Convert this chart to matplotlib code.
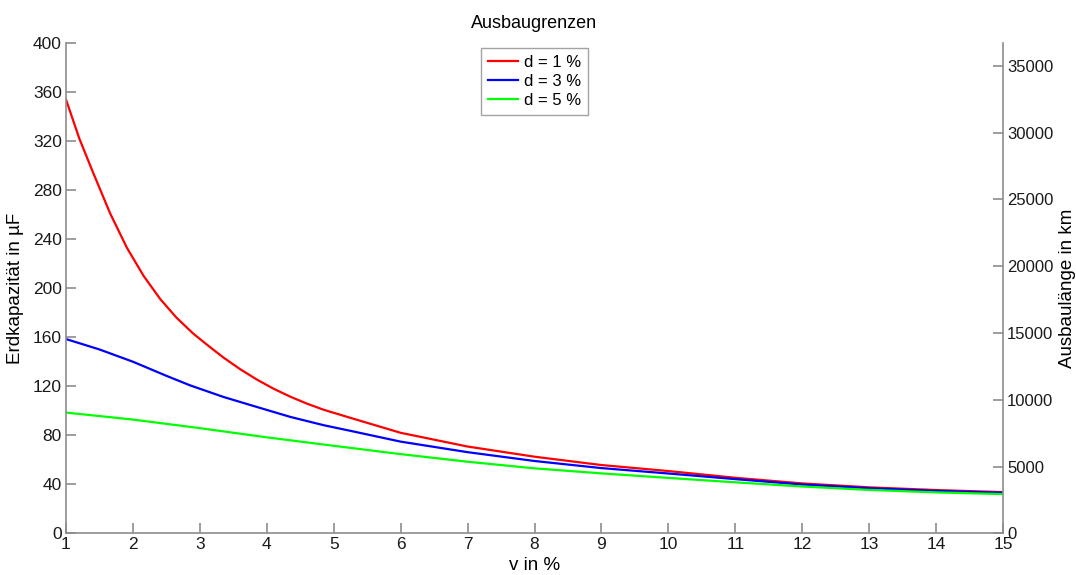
#!/usr/bin/env python
import matplotlib
matplotlib.use("Agg")
import matplotlib.pyplot as plt

# values
v_red = [1.0, 1.2, 1.4, 1.66, 1.91, 2.16, 2.41, 2.65, 2.9, 3.15, 3.35, 3.6,
         3.85, 4.1, 4.35, 4.6, 4.85, 5.25, 6.0, 7.0, 8.0, 9.0, 10.0, 11.0,
         12.0, 13.0, 14.0, 15.0]
c_red = [354, 322, 295, 261, 233, 210, 191, 176, 163, 152, 143.5, 134,
         125.5, 118, 111.5, 105.8, 100.8, 94.2, 82, 70.8, 62.5, 55.7, 50.8,
         45.3, 40.7, 37.5, 35.3, 33.6]

v_blue = [1.0, 1.5, 2.0, 2.5, 2.85, 3.35, 3.85, 4.35, 4.85, 5.25, 6.0, 7.0,
          8.0, 9.0, 10.0, 11.0, 12.0, 13.0, 14.0, 15.0]
c_blue = [158.5, 150, 140, 128.5, 120.8, 111.3, 103.1, 95, 88.2, 83.6, 74.8,
          66.2, 59, 53.2, 48.8, 44.2, 39.8, 36.8, 34.6, 33.1]

v_green = [1.0, 2.0, 3.0, 4.0, 5.0, 6.0, 7.0, 8.0, 9.0, 10.0, 11.0, 12.0,
           13.0, 14.0, 15.0]
c_green = [98.5, 92.8, 85.8, 78.3, 71.4, 64.6, 58.4, 53.0, 48.9, 45.2, 41.6,
           38.2, 35.4, 33.4, 32.0]

labels = ["d = 1 %", "d = 3 %", "d = 5 %"]
colors = ["#ff0000", "#0000ff", "#00ff00"]

left_ticks = list(range(0, 401, 40))
right_ticks = list(range(0, 35001, 5000))
x_ticks = list(range(1, 16))

plt.rcParams['font.family'] = ['Liberation Sans', 'DejaVu Sans']
gray = "#8c8c8c"

fig = plt.figure(figsize=(10.76, 5.75), dpi=100)
ax = fig.add_axes([0.0613, 0.0725, 0.8709, 0.8527])

for xs, ys, lab, col in zip([v_red, v_blue, v_green], [c_red, c_blue, c_green],
                            labels, colors):
    ax.plot(xs, ys, color=col, lw=1.6, label=lab, solid_joinstyle='round')

ax.set_xlim(1, 15)
ax.set_ylim(0, 400)
ax.set_xticks(x_ticks)
ax.set_yticks(left_ticks)
ax.spines['top'].set_visible(False)
ax.spines['right'].set_visible(False)
for s in ['left', 'bottom']:
    ax.spines[s].set_color(gray)
    ax.spines[s].set_linewidth(1.2)
ax.tick_params(direction='in', length=7, width=1.2, color=gray,
               labelsize=12.5, labelcolor='#1a1a1a', pad=3)
ax.set_xlabel("v in %", fontsize=13.5, labelpad=3)
ax.set_ylabel("Erdkapazität in µF", fontsize=13.5, labelpad=6)
ax.set_title("Ausbaugrenzen", fontsize=13, pad=11)

ax2 = ax.twinx()
ax2.set_ylim(0, 36700)
ax2.set_yticks(right_ticks)
for s in ['top', 'left', 'bottom']:
    ax2.spines[s].set_visible(False)
ax2.spines['right'].set_color(gray)
ax2.spines['right'].set_linewidth(1.2)
ax2.tick_params(direction='in', length=7, width=1.2, color=gray,
                labelsize=12, labelcolor='#1a1a1a', pad=3)
ax2.set_ylabel("Ausbaulänge in km", fontsize=13.5, labelpad=4)

leg = ax.legend(loc='upper center', bbox_to_anchor=(0.5, 1.0), fontsize=12,
                frameon=True, fancybox=False, handlelength=1.8,
                handletextpad=0.35, borderpad=0.4, labelspacing=0.25,
                borderaxespad=0.3)
leg.get_frame().set_edgecolor(gray)
leg.get_frame().set_linewidth(1.0)

plt.savefig("out.png", dpi=100)
